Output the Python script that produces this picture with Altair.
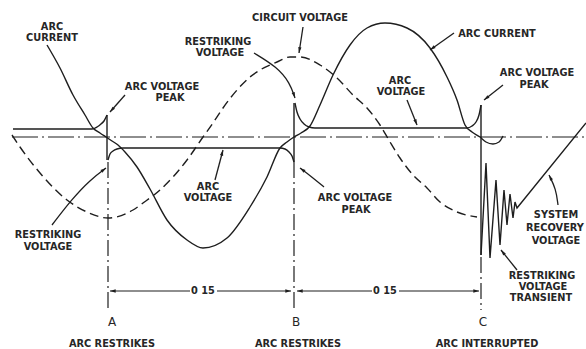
import math
import altair as alt
import pandas as pd

INK = "#1e1e1e"
TEXT_INK = "#262626"
FONT = "DejaVu Sans"

# ---- traces: t = position along the time sweep, v = amplitude about the zero line ----
current_t = [47, 60, 73, 85, 93, 100, 106, 112, 118, 125, 137, 150, 167, 187, 203, 227, 250, 267,
             280, 287, 294, 301, 310, 320, 333, 350, 367, 385, 407, 430, 447, 457, 465, 472, 480,
             486, 493, 499, 503]
current_v = [92, 69, 42, 22, 9, 4, 0, -4, -8, -15, -30, -52, -83, -103, -111, -101, -70, -40,
             -11, -5, 0, 4, 11, 32, 62, 92, 109, 114, 109, 89, 60, 37, 12, 5, 0,
             -5, -7, -5, 1]

circuit_t = [12, 20, 40, 67, 87, 108, 133, 143, 160, 173, 187, 203, 213, 223, 237, 250, 260, 277,
             290, 300, 320, 337, 353, 367, 380, 390, 400, 413, 427, 440, 457, 477]
circuit_v = [2, -10, -36, -63, -75, -81, -73, -66, -53, -40, -23, 0, 14, 29, 47, 60, 67, 75,
             80, 80, 72, 59, 42, 29, 12, -5, -21, -38, -51, -65, -75, -80]

# arc voltage: three arcing intervals, each rising to its extinction peak
arc_id = ["p1"] * 6 + ["n1"] * 10 + ["p2"] * 11
arc_t = [13, 92, 97, 101, 104, 107,
         108, 110, 113, 117, 123, 280, 285, 289, 292, 294,
         295, 297, 300, 304, 309, 315, 467, 472, 476, 479, 481]
arc_v = [8, 8, 10, 13, 16, 22,
         -23, -17, -14, -12, -11, -11, -12, -15, -19, -25,
         34, 25, 18, 13, 10, 9, 9, 11, 15, 22, 32]

# voltage reversals at the current zeros
jump_id = ["A", "A", "B", "B", "C", "C"]
jump_t = [107, 107, 294, 294, 481, 481]
jump_v = [22, -23, -25, 34, 32, -118]

# restriking transient after interruption, then the system recovery voltage
transient_t = [481, 486, 490, 496, 500, 504, 507, 510, 513, 515, 517, 586]
transient_v = [-118, -26, -121, -43, -108, -53, -88, -57, -81, -65, -71, 14]

# zero reference line
zero_t = [12]
zero_t2 = [586]
zero_v = [0]

# event markers A, B, C
event_name = ["A", "B", "C"]
event_t = [108, 294, 481]
event_top = [-25, -25, -120]
event_bottom = [-173, -173, -173]

# interval dimension lines
dim_id = ["d1", "d1", "d2", "d2", "d3", "d3", "d4", "d4"]
dim_t = [110, 190, 217, 291, 297, 372, 399, 479]
dim_v = [-154] * 8
dim_head_t = [110, 291, 297, 479]
dim_head_dir = [-1, 1, -1, 1]

# leader arrows from labels to features
arrow_id = ["a", "a", "b", "b", "b", "b", "c", "c", "d", "d", "e", "e", "f", "f",
            "g", "g", "g", "g", "h", "h", "i", "i", "i", "j", "j", "j", "k", "k"]
arrow_t = [125, 110, 254, 277, 290, 295, 303, 299, 454, 430, 407, 417, 503, 484,
           52, 72, 90, 106, 215, 223, 324, 312, 300, 558, 556, 549, 517, 501]
arrow_v = [42, 25, 84, 70, 54, 39, 110, 84, 104, 87, 37, 12, 52, 37,
           -88, -62, -43, -31, -43, -13, -50, -40, -31, -68, -52, -38, -133, -113]

# annotation text, one entry per printed line
label_text = ["ARC", "CURRENT", "CIRCUIT VOLTAGE", "RESTRIKING", "VOLTAGE", "ARC VOLTAGE", "PEAK",
              "ARC CURRENT", "ARC", "VOLTAGE", "ARC VOLTAGE", "PEAK", "ARC", "VOLTAGE",
              "RESTRIKING", "VOLTAGE", "ARC VOLTAGE", "PEAK", "SYSTEM", "RECOVERY", "VOLTAGE",
              "RESTRIKING", "VOLTAGE", "TRANSIENT", "0 15", "0 15",
              "ARC RESTRIKES", "ARC RESTRIKES", "ARC INTERRUPTED"]
label_t = [52, 52, 300, 218, 220, 162, 170,
           497, 400, 401, 537, 534, 208, 208,
           48, 48, 355, 356, 556, 555, 556,
           542, 543, 541, 203, 385,
           112, 298, 487]
label_v = [110, 99, 119, 95, 84, 50, 39,
           103, 56, 45, 64, 52, -50, -61,
           -98, -110, -61, -73, -78, -91, -104,
           -139, -150, -161, -154, -154,
           -207, -207, -207]

letter_t = [112, 296, 483]
letter_v = [-185, -185, -185]

# ---- tables ----
def path_frame(ids, ts, vs):
    return pd.DataFrame({"id": ids, "t": ts, "v": vs, "k": range(len(ts))})

current_df = path_frame(["i"] * len(current_t), current_t, current_v)
circuit_df = path_frame(["u"] * len(circuit_t), circuit_t, circuit_v)
arc_df = path_frame(arc_id, arc_t, arc_v)
jump_df = path_frame(jump_id, jump_t, jump_v)
trans_df = path_frame(["tr"] * len(transient_t), transient_t, transient_v)
dim_df = path_frame(dim_id, dim_t, dim_v)
arrow_df = path_frame(arrow_id, arrow_t, arrow_v)
zero_df = pd.DataFrame({"t": zero_t, "t2": zero_t2, "v": zero_v})
event_df = pd.DataFrame({"name": event_name, "t": event_t, "top": event_top, "bottom": event_bottom})
label_df = pd.DataFrame({"text": label_text, "t": label_t, "v": label_v})
letter_df = pd.DataFrame({"text": event_name, "t": letter_t, "v": letter_v})

# arrowheads: tip at the last point of each leader, pointing along its final segment
heads = []
for name in dict.fromkeys(arrow_id):
    pts = arrow_df[arrow_df["id"] == name][["t", "v"]].values
    (t0, v0), (t1, v1) = pts[-2], pts[-1]
    heads.append({"t": float(t1), "v": float(v1),
                  "angle": math.degrees(math.atan2(t1 - t0, v1 - v0)) % 360})
for t, d in zip(dim_head_t, dim_head_dir):
    heads.append({"t": float(t), "v": float(dim_v[0]), "angle": 90.0 if d > 0 else 270.0})
head_df = pd.DataFrame(heads)

xs = alt.Scale(domain=[0, 586], nice=False, zero=False)
ys = alt.Scale(domain=[-212, 137], nice=False, zero=False)
X = alt.X("t:Q", scale=xs, axis=None)
Y = alt.Y("v:Q", scale=ys, axis=None)
ORDER = alt.Order("k:Q")

zero_line = alt.Chart(zero_df).mark_rule(color=INK, strokeWidth=1.2, strokeDash=[26, 4, 2, 4]).encode(
    x=X, x2="t2:Q", y=Y)

markers = alt.Chart(event_df).mark_rule(color=INK, strokeWidth=1.2, strokeDash=[16, 4, 2, 4]).encode(
    x=X, y=alt.Y("top:Q", scale=ys, axis=None), y2="bottom:Q")

circuit = alt.Chart(circuit_df).mark_line(
    color=INK, strokeWidth=1.4, strokeDash=[9, 5], interpolate="monotone").encode(x=X, y=Y, order=ORDER)

current = alt.Chart(current_df).mark_line(
    color=INK, strokeWidth=1.4, interpolate="monotone").encode(x=X, y=Y, order=ORDER)

arc = alt.Chart(arc_df).mark_line(
    color=INK, strokeWidth=1.4, interpolate="monotone").encode(x=X, y=Y, detail="id:N", order=ORDER)

jumps = alt.Chart(jump_df).mark_line(color=INK, strokeWidth=1.4).encode(
    x=X, y=Y, detail="id:N", order=ORDER)

transient = alt.Chart(trans_df).mark_line(color=INK, strokeWidth=1.4).encode(x=X, y=Y, order=ORDER)

dims = alt.Chart(dim_df).mark_line(color=INK, strokeWidth=1.1).encode(
    x=X, y=Y, detail="id:N", order=ORDER)

leaders = alt.Chart(arrow_df).mark_line(
    color=INK, strokeWidth=1.3, interpolate="basis").encode(x=X, y=Y, detail="id:N", order=ORDER)

arrowheads = alt.Chart(head_df).mark_point(
    shape="M0,0L0.55,1.9L-0.55,1.9Z", filled=True, color=INK, opacity=1, size=36, strokeWidth=0
).encode(x=X, y=Y, angle=alt.Angle("angle:Q", scale=None))

labels = alt.Chart(label_df).mark_text(
    font=FONT, fontSize=9.8, fontWeight="bold", color=TEXT_INK, align="center", baseline="middle"
).encode(x=X, y=Y, text="text:N")

letters = alt.Chart(letter_df).mark_text(
    font=FONT, fontSize=12, color=TEXT_INK, align="center", baseline="middle"
).encode(x=X, y=Y, text="text:N")

chart = alt.layer(
    zero_line, markers, circuit, current, arc, jumps, transient, dims, leaders, arrowheads,
    labels, letters
).properties(
    width=586, height=349, padding=0, autosize=alt.AutoSizeParams(type="none"), background="white"
).configure_view(stroke=None)

chart.save("out.html", embed_options={"renderer": "svg", "actions": False})
